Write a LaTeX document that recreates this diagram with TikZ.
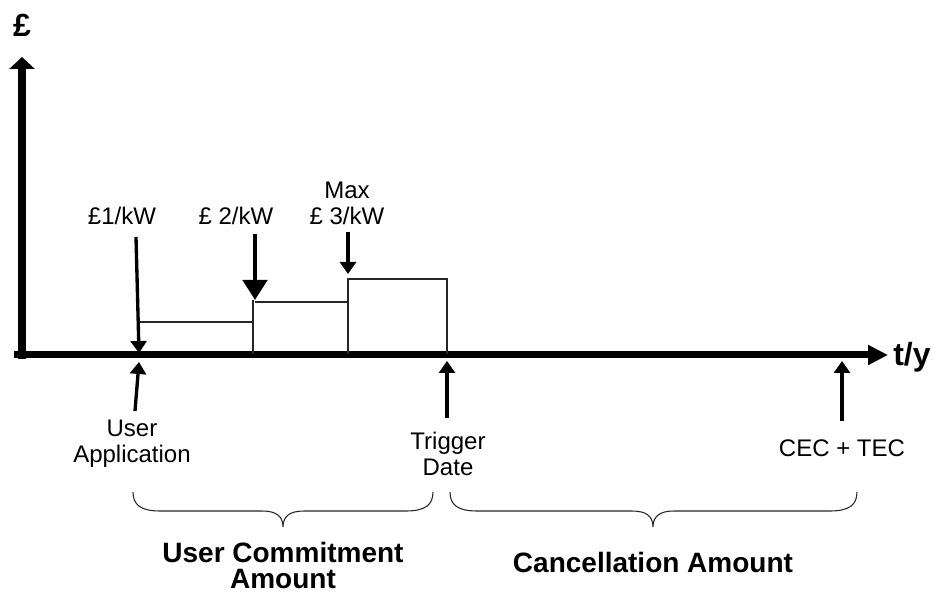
\documentclass[tikz,border=0pt]{standalone}
\usepackage{fontspec}
\setmainfont{Liberation Sans}
\usetikzlibrary{arrows.meta}
\begin{document}
\begin{tikzpicture}[x=0.75pt,y=-0.75pt,
  lbl/.style={font=\fontsize{18}{19.5}\selectfont, inner sep=0pt, align=center},
  blbl/.style={font=\bfseries\fontsize{21}{19.5}\selectfont, inner sep=0pt, align=center},
  big/.style={font=\bfseries\fontsize{24}{26}\selectfont, inner sep=0pt},
  yaxis/.style={line width=6.4pt, -{Triangle[length=9pt,width=18.75pt]}},
  xaxis/.style={line width=5.25pt, -{Triangle[length=15pt,width=14.25pt]}},
  ptr/.style={line width=2.5pt, -{Triangle[length=9pt,width=12pt]}},
  bigptr/.style={line width=3.5pt, -{Triangle[length=15pt,width=18pt]}},
  stepline/.style={line width=0.9pt, black!85},
  bracel/.style={line width=0.8pt, black!85}
]
\useasboundingbox (0,0) rectangle (935,598);

% axes
\coordinate (yb) at (22,359);
\coordinate (yt) at (22,57);
\coordinate (xl) at (14,355);
\coordinate (xr) at (888,355);
\draw[yaxis] (yb) -- (yt);
\draw[xaxis] (xl) -- (xr);
\node[big] (pound) at (22,25) {£};
\node[big, anchor=base west] (ty) at (893,366) {t/y};

% steps
\draw[stepline] (140,322) -- (253,322);
\draw[stepline] (253,354) -- (253,300);
\draw[stepline] (255,302) -- (347,302);
\draw[stepline] (348,354) -- (348,279) -- (447,279) -- (447,354);

% top labels
\node[lbl, anchor=base] (l1) at (122,225) {£1/kW};
\node[lbl, anchor=base] (l2) at (236,225) {£ 2/kW};
\node[lbl, anchor=north] (l3) at (347,182) {Max\\£ 3/kW};

% down pointers
\coordinate (p1s) at (136,237);
\coordinate (p1e) at (139,353);
\coordinate (p2s) at (255,234);
\coordinate (p2e) at (255,300);
\coordinate (p3s) at (348,232);
\coordinate (p3e) at (348,274);
\draw[ptr] (p1s) -- (p1e);
\draw[bigptr] (p2s) -- (p2e);
\draw[ptr] (p3s) -- (p3e);

% up pointers
\coordinate (u1s) at (135,411);
\coordinate (u1e) at (139,362);
\coordinate (u2s) at (447,418);
\coordinate (u2e) at (447,361);
\coordinate (u3s) at (842,421);
\coordinate (u3e) at (842,361);
\draw[ptr] (u1s) -- (u1e);
\draw[ptr] (u2s) -- (u2e);
\draw[ptr] (u3s) -- (u3e);

% bottom labels
\node[lbl, anchor=north] (ua) at (132,420) {User\\Application};
\node[lbl, anchor=north] (td) at (448,432) {Trigger\\Date};
\node[lbl, anchor=base] (ct) at (842,456) {CEC + TEC};

% braces
\draw[bracel] (133,492) .. controls (133,505) and (141,511) .. (160,511)
  -- (262,511) .. controls (276,511) and (283,516) .. (283,527)
  .. controls (283,516) and (290,511) .. (304,511)
  -- (406,511) .. controls (425,511) and (433,505) .. (433,492);
\draw[bracel] (450,492) .. controls (450,505) and (458,511) .. (477,511)
  -- (632,511) .. controls (646,511) and (653,516) .. (653,527)
  .. controls (653,516) and (660,511) .. (674,511)
  -- (830,511) .. controls (849,511) and (857,505) .. (857,492);

\node[blbl, anchor=north] (uc) at (283,542) {User Commitment\\Amount};
\node[blbl, anchor=base] (ca) at (653,572) {Cancellation Amount};
\end{tikzpicture}
\end{document}
